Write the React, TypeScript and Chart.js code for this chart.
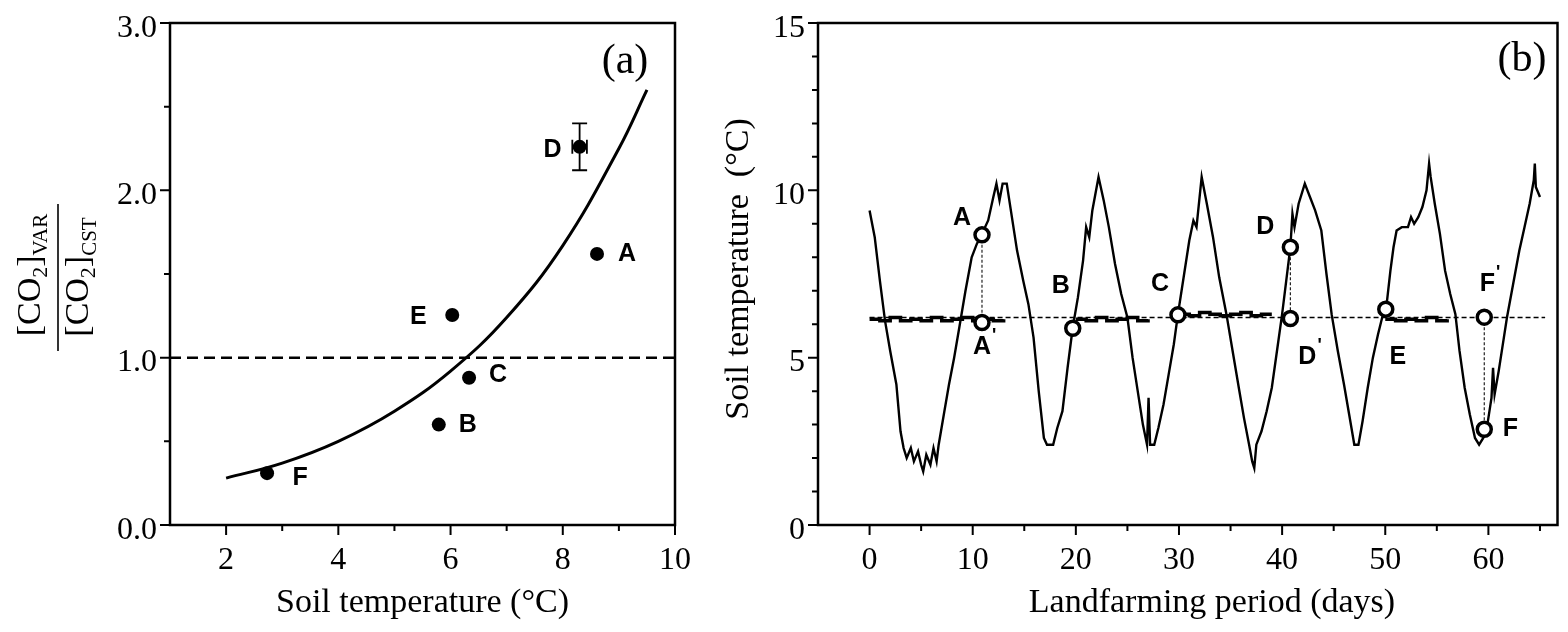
import React, { useEffect, useRef } from "react";
import { Chart, registerables } from "chart.js";

Chart.register(...registerables);

const SERIF = "'Liberation Serif', 'Times New Roman', Times, serif";
const SANS = "'Liberation Sans', Arial, Helvetica, sans-serif";

// ---------------- Panel (a) data ----------------
const aSampleNames = ["A", "B", "C", "D", "E", "F"];
const aSoilTemp = [8.61, 5.79, 6.33, 8.3, 6.03, 2.73];
const aCo2Ratio = [1.62, 0.6, 0.88, 2.26, 1.255, 0.31];
const aRatioError = [0, 0, 0, 0.14, 0, 0];
const aTempError = [0, 0, 0, 0.13, 0, 0];
const aFitTemp = [2, 3, 4, 5, 6, 7, 8, 9, 9.5];
const aFitRatio = [0.28, 0.37, 0.5, 0.68, 0.92, 1.24, 1.67, 2.25, 2.6];
const aRefTemp = [1, 10];
const aRefRatio = [1, 1];
const aXMajor = [2, 4, 6, 8, 10];
const aXMinor = [3, 5, 7, 9];
const aYMajor = [0, 1, 2, 3];
const aYMinor = [0.5, 1.5, 2.5];
const aXTitle = "Soil temperature (\u00B0C)";
const aPanelTag = "(a)";

// ---------------- Panel (b) data ----------------
const bVarDay = [
  0, 0.5, 1, 1.5, 2, 2.6, 3, 3.3, 3.6, 4,
  4.3, 4.7, 5, 5.2, 5.5, 5.9, 6.2, 6.5, 6.7, 7.2,
  7.7, 8.2, 8.7, 9.3, 9.9, 10.4, 10.9, 11.5, 12, 12.3,
  12.6, 12.9, 13.3, 13.8, 14.3, 14.9, 15.4, 15.9, 16.4, 16.9,
  17.2, 17.8, 18.2, 18.7, 19.2, 19.7, 20.2, 20.7, 21, 21.3,
  21.6, 22.2, 22.7, 23.2, 23.8, 24.4, 25, 25.5, 26, 26.5,
  26.9, 27.05, 27.2, 27.6, 28, 28.5, 29, 29.5, 29.9, 30.5,
  31, 31.4, 31.7, 32.2, 32.7, 33.3, 33.9, 34.6, 35.2, 35.8,
  36.3, 36.8, 37.1, 37.3, 37.5, 38, 38.5, 39, 39.5, 40,
  40.4, 40.8, 41, 41.2, 41.6, 42.2, 42.7, 43.2, 43.8, 44.3,
  44.8, 45.4, 46, 46.5, 47, 47.4, 47.8, 48.3, 48.8, 49.3,
  49.7, 50.1, 50.5, 50.8, 51.1, 51.6, 52.2, 52.5, 52.8, 53.2,
  53.6, 54, 54.25, 54.4, 54.8, 55.3, 55.8, 56.3, 56.8, 57.2,
  57.7, 58.2, 58.7, 59.1, 59.5, 59.9, 60.3, 60.45, 60.6, 61,
  61.5, 61.8, 62.4, 63, 63.5, 64, 64.4, 64.5, 64.6, 65,
];
const bVarTemp = [
  9.4, 8.6, 7.3, 6.1, 5.2, 4.2, 2.8, 2.3, 2.0, 2.3,
  1.9, 2.2, 1.8, 1.6, 2.1, 1.8, 2.3, 1.9, 2.4, 3.3,
  4.2, 5.0, 5.9, 7.0, 8.0, 8.4, 8.7, 9.1, 9.8, 10.2,
  9.7, 10.2, 10.2, 9.2, 8.2, 7.3, 6.6, 5.6, 4.0, 2.6,
  2.4, 2.4, 2.9, 3.4, 4.7, 5.9, 6.8, 7.9, 8.9, 8.6,
  9.4, 10.4, 9.7, 8.9, 7.8, 6.9, 6.2, 5.0, 4.0, 3.0,
  2.4, 3.8, 2.4, 2.4, 2.9, 3.6, 4.5, 5.4, 6.3, 7.5,
  8.5, 9.1, 8.9, 10.4, 9.6, 8.6, 7.4, 6.3, 5.2, 4.1,
  3.2, 2.4, 1.9, 1.7, 2.4, 2.8, 3.4, 4.1, 5.2, 6.3,
  7.3, 8.3, 9.3, 8.9, 9.6, 10.2, 9.8, 9.4, 8.8, 7.5,
  6.3, 5.2, 4.2, 3.3, 2.4, 2.4, 3.1, 4.1, 5.0, 5.7,
  6.2, 6.5, 7.6, 8.3, 8.8, 8.9, 8.9, 9.2, 9.0, 9.2,
  9.5, 10.0, 10.8, 10.4, 9.6, 8.7, 7.6, 6.9, 6.3, 5.2,
  4.1, 3.3, 2.6, 2.4, 2.6, 3.0, 3.8, 4.7, 3.9, 4.6,
  5.6, 6.2, 7.2, 8.2, 8.9, 9.6, 10.3, 10.8, 10.1, 9.8,
];
// constant-temperature control: dashed reference and recorded noisy segments
const bConstDay = [0, 65.5];
const bConstTemp = [6.2, 6.2];
const bBandDay = [
  0, 1, 2, 3, 4, 5, 6, 7, 8, 9, 10, 11, 12, 13, 13.5,
  20, 21, 22, 23, 24, 25, 26, 27, 28,
  30, 31, 32, 33, 34, 35, 36, 37, 38, 39, 45,
  50, 51, 52, 53, 54, 55, 56,
];
const bBandTemp = [
  6.15, 6.1, 6.2, 6.1, 6.15, 6.1, 6.2, 6.1, 6.15, 6.2, 6.1, 6.15, 6.1, 6.15, null,
  6.15, 6.1, 6.2, 6.1, 6.15, 6.2, 6.1, 6.15, null,
  6.3, 6.25, 6.35, 6.3, 6.25, 6.3, 6.35, 6.25, 6.3, 6.3, null,
  6.15, 6.1, 6.15, 6.1, 6.2, 6.1, 6.15,
];
const bMarkNames = ["A", "A'", "B", "C", "D", "D'", "E", "F", "F'"];
const bMarkDay = [10.9, 10.9, 19.7, 29.9, 40.8, 40.8, 50.05, 59.6, 59.6];
const bMarkTemp = [8.67, 6.05, 5.88, 6.28, 8.3, 6.17, 6.45, 2.86, 6.21];
const bLinkPairs = [[0, 1], [4, 5], [8, 7]];
const bXMajor = [0, 10, 20, 30, 40, 50, 60];
const bXMinor = [5, 15, 25, 35, 45, 55, 65];
const bYMajor = [0, 5, 10, 15];
const bYMinor = [1, 2, 3, 4, 6, 7, 8, 9, 11, 12, 13, 14];
const bXTitle = "Landfarming period (days)";
const bYTitle = "Soil temperature  (\u00B0C)";
const bPanelTag = "(b)";

// ---------------- style (offsets of point labels, px) ----------------
const aLabelOffsets = [[30, 0], [29, 1], [29, -3], [-27, 3], [-34, 2], [33, 5]];
const bLabelOffsets = [[-20, -17], [0, 25], [-12, -42], [-18, -31], [-25, -20], [17, 39], [12, 48], [26, 0], [3, -33]];

function drawFrameAndTicks(ctx: CanvasRenderingContext2D, chart: any, xMaj: number[], xMin: number[], yMaj: number[], yMin: number[], xLab: (v: number) => string, yLab: (v: number) => string) {
  const { chartArea: ca, scales } = chart;
  const x = scales.x, y = scales.y;
  ctx.save();
  ctx.strokeStyle = "#000";
  ctx.lineWidth = 2.5;
  ctx.strokeRect(ca.left, ca.top, ca.right - ca.left, ca.bottom - ca.top);
  ctx.lineWidth = 2;
  ctx.beginPath();
  xMaj.forEach((v) => { const p = x.getPixelForValue(v); ctx.moveTo(p, ca.bottom); ctx.lineTo(p, ca.bottom + 10); });
  xMin.forEach((v) => { const p = x.getPixelForValue(v); ctx.moveTo(p, ca.bottom); ctx.lineTo(p, ca.bottom + 6); });
  yMaj.forEach((v) => { const p = y.getPixelForValue(v); ctx.moveTo(ca.left, p); ctx.lineTo(ca.left - 10, p); });
  yMin.forEach((v) => { const p = y.getPixelForValue(v); ctx.moveTo(ca.left, p); ctx.lineTo(ca.left - 6, p); });
  ctx.stroke();
  ctx.fillStyle = "#000";
  ctx.font = `32px ${SERIF}`;
  ctx.textBaseline = "alphabetic";
  ctx.textAlign = "center";
  xMaj.forEach((v) => ctx.fillText(xLab(v), x.getPixelForValue(v), ca.bottom + 44));
  ctx.textAlign = "right";
  yMaj.forEach((v) => ctx.fillText(yLab(v), ca.left - 13, y.getPixelForValue(v) + 13.5));
  ctx.restore();
}

function drawMarkLabel(ctx: CanvasRenderingContext2D, text: string, cx: number, cy: number, size: number) {
  const prime = text.endsWith("'");
  const base = prime ? text.slice(0, -1) : text;
  ctx.font = `bold ${size}px ${SANS}`;
  ctx.textAlign = "center";
  ctx.textBaseline = "middle";
  ctx.fillText(base, cx, cy);
  if (prime) {
    const w = ctx.measureText(base).width;
    ctx.font = `bold ${Math.round(size * 0.7)}px ${SANS}`;
    ctx.textAlign = "left";
    ctx.fillText("'", cx + w / 2 + 1, cy - size * 0.45);
  }
}

function drawRotatedRich(ctx: CanvasRenderingContext2D, bx: number, cy: number, parts: [string, number, number][]) {
  ctx.save();
  ctx.translate(bx, cy);
  ctx.rotate(-Math.PI / 2);
  ctx.textBaseline = "alphabetic";
  ctx.textAlign = "left";
  let total = 0;
  parts.forEach(([t, s]) => { ctx.font = `${s}px ${SERIF}`; total += ctx.measureText(t).width; });
  let pos = -total / 2;
  parts.forEach(([t, s, off]) => {
    ctx.font = `${s}px ${SERIF}`;
    ctx.fillText(t, pos, off);
    pos += ctx.measureText(t).width;
  });
  ctx.restore();
}

const panelAPlugin = {
  id: "panelA",
  afterDatasetsDraw(chart: any) {
    const ctx: CanvasRenderingContext2D = chart.ctx;
    const x = chart.scales.x, y = chart.scales.y;
    ctx.save();
    ctx.strokeStyle = "#000";
    ctx.fillStyle = "#000";
    ctx.lineWidth = 1.8;
    aSoilTemp.forEach((t, i) => {
      const px = x.getPixelForValue(t), py = y.getPixelForValue(aCo2Ratio[i]);
      if (aRatioError[i] > 0) {
        const y1 = y.getPixelForValue(aCo2Ratio[i] + aRatioError[i]);
        const y2 = y.getPixelForValue(aCo2Ratio[i] - aRatioError[i]);
        ctx.beginPath();
        ctx.moveTo(px, y1); ctx.lineTo(px, y2);
        ctx.moveTo(px - 7.5, y1); ctx.lineTo(px + 7.5, y1);
        ctx.moveTo(px - 7.5, y2); ctx.lineTo(px + 7.5, y2);
        ctx.stroke();
      }
      if (aTempError[i] > 0) {
        const x1 = x.getPixelForValue(t - aTempError[i]);
        const x2 = x.getPixelForValue(t + aTempError[i]);
        ctx.beginPath();
        ctx.moveTo(x1, py); ctx.lineTo(x2, py);
        ctx.moveTo(x1, py - 7); ctx.lineTo(x1, py + 7);
        ctx.moveTo(x2, py - 7); ctx.lineTo(x2, py + 7);
        ctx.stroke();
      }
      drawMarkLabel(ctx, aSampleNames[i], px + aLabelOffsets[i][0], py + aLabelOffsets[i][1], 25);
    });
    ctx.restore();
  },
  afterDraw(chart: any) {
    const ctx: CanvasRenderingContext2D = chart.ctx;
    const ca = chart.chartArea;
    drawFrameAndTicks(ctx, chart, aXMajor, aXMinor, aYMajor, aYMinor, (v) => String(v), (v) => v.toFixed(1));
    ctx.save();
    ctx.fillStyle = "#000";
    ctx.font = `34px ${SERIF}`;
    ctx.textAlign = "center";
    ctx.textBaseline = "alphabetic";
    ctx.fillText(aXTitle, (ca.left + ca.right) / 2, 612);
    ctx.font = `42px ${SERIF}`;
    ctx.textBaseline = "middle";
    ctx.fillText(aPanelTag, 625, 62);
    // fraction y-axis title
    drawRotatedRich(ctx, 39.5, 275, [["[CO", 34, 0], ["2", 22, 7], ["]", 34, 0], ["VAR", 21, 7.5]]);
    drawRotatedRich(ctx, 88, 277, [["[CO", 34, 0], ["2", 22, 7], ["]", 34, 0], ["CST", 21, 7.5]]);
    ctx.strokeStyle = "#000";
    ctx.lineWidth = 1.6;
    ctx.beginPath();
    ctx.moveTo(58, 204);
    ctx.lineTo(58, 351);
    ctx.stroke();
    ctx.restore();
  },
};

const panelBPlugin = {
  id: "panelB",
  afterDatasetsDraw(chart: any) {
    const ctx: CanvasRenderingContext2D = chart.ctx;
    const x = chart.scales.x, y = chart.scales.y;
    ctx.save();
    ctx.fillStyle = "#000";
    bMarkNames.forEach((n, i) => {
      const px = x.getPixelForValue(bMarkDay[i]), py = y.getPixelForValue(bMarkTemp[i]);
      drawMarkLabel(ctx, n, px + bLabelOffsets[i][0], py + bLabelOffsets[i][1], 25);
    });
    ctx.restore();
  },
  afterDraw(chart: any) {
    const ctx: CanvasRenderingContext2D = chart.ctx;
    drawFrameAndTicks(ctx, chart, bXMajor, bXMinor, bYMajor, bYMinor, (v) => String(v), (v) => String(v));
    ctx.save();
    ctx.fillStyle = "#000";
    ctx.font = `34px ${SERIF}`;
    ctx.textAlign = "center";
    ctx.textBaseline = "alphabetic";
    ctx.fillText(bXTitle, 512, 612);
    ctx.save();
    ctx.translate(48, 269);
    ctx.rotate(-Math.PI / 2);
    ctx.fillText(bYTitle, 0, 0);
    ctx.restore();
    ctx.font = `42px ${SERIF}`;
    ctx.textBaseline = "middle";
    ctx.fillText(bPanelTag, 822, 60);
    ctx.restore();
  },
};

const pts = (xs: number[], ys: (number | null)[]) => xs.map((v, i) => ({ x: v, y: ys[i] }));

function axis(min: number, max: number, size: { w?: number; h?: number }) {
  return {
    type: "linear" as const,
    min,
    max,
    grid: { display: false },
    border: { display: false },
    ticks: { display: false },
    afterFit: (s: any) => {
      if (size.w !== undefined) s.width = size.w;
      if (size.h !== undefined) s.height = size.h;
    },
  };
}

function configA(): any {
  return {
    type: "scatter",
    data: {
      datasets: [
        {
          data: pts(aSoilTemp, aCo2Ratio),
          pointRadius: 7,
          pointBackgroundColor: "#000",
          pointBorderColor: "#000",
          pointBorderWidth: 0,
          showLine: false,
          order: 0,
        },
        {
          data: pts(aFitTemp, aFitRatio),
          showLine: true,
          borderColor: "#000",
          borderWidth: 3,
          pointRadius: 0,
          tension: 0.4,
          order: 1,
        },
        {
          data: pts(aRefTemp, aRefRatio),
          showLine: true,
          borderColor: "#000",
          borderWidth: 2.5,
          borderDash: [11, 6],
          pointRadius: 0,
          order: 2,
        },
      ],
    },
    options: {
      responsive: false,
      animation: false,
      devicePixelRatio: 1,
      events: [],
      layout: { padding: { left: 0, right: 25, top: 23, bottom: 0 } },
      plugins: { legend: { display: false }, tooltip: { enabled: false } },
      scales: { x: axis(1, 10, { h: 107 }), y: axis(0, 3, { w: 170 }) },
    },
    plugins: [panelAPlugin],
  };
}

function configB(): any {
  const links: { x: number; y: number | null }[] = [];
  bLinkPairs.forEach(([a, b]) => {
    links.push({ x: bMarkDay[a], y: bMarkTemp[a] });
    links.push({ x: bMarkDay[b], y: bMarkTemp[b] });
    links.push({ x: bMarkDay[b], y: null });
  });
  return {
    type: "scatter",
    data: {
      datasets: [
        {
          data: pts(bMarkDay, bMarkTemp),
          pointRadius: 7,
          pointBackgroundColor: "#fff",
          pointBorderColor: "#000",
          pointBorderWidth: 3.5,
          showLine: false,
          order: 0,
        },
        {
          data: links,
          showLine: true,
          borderColor: "#222",
          borderWidth: 1.2,
          borderDash: [3, 2],
          pointRadius: 0,
          spanGaps: false,
          order: 1,
        },
        {
          data: pts(bVarDay, bVarTemp),
          showLine: true,
          borderColor: "#000",
          borderWidth: 2.4,
          pointRadius: 0,
          order: 2,
        },
        {
          data: pts(bBandDay, bBandTemp),
          showLine: true,
          stepped: true,
          borderColor: "#000",
          borderWidth: 3.5,
          pointRadius: 0,
          spanGaps: false,
          order: 3,
        },
        {
          data: pts(bConstDay, bConstTemp),
          showLine: true,
          borderColor: "#000",
          borderWidth: 1.4,
          borderDash: [5, 3],
          pointRadius: 0,
          order: 4,
        },
      ],
    },
    options: {
      responsive: false,
      animation: false,
      devicePixelRatio: 1,
      events: [],
      layout: { padding: { left: 0, right: 3, top: 23, bottom: 0 } },
      plugins: { legend: { display: false }, tooltip: { enabled: false } },
      scales: { x: axis(-5, 66.7, { h: 107 }), y: axis(0, 15, { w: 118 }) },
    },
    plugins: [panelBPlugin],
  };
}

export default function App() {
  const aRef = useRef<HTMLCanvasElement>(null);
  const bRef = useRef<HTMLCanvasElement>(null);
  useEffect(() => {
    const ca = new Chart(aRef.current as HTMLCanvasElement, configA());
    const cb = new Chart(bRef.current as HTMLCanvasElement, configB());
    return () => {
      ca.destroy();
      cb.destroy();
    };
  }, []);
  return (
    <div style={{ position: "fixed", left: 0, top: 0, width: 1568, height: 632, overflow: "hidden", background: "#fff" }}>
      <canvas ref={aRef} width={700} height={632} style={{ position: "absolute", left: 0, top: 0 }} />
      <canvas ref={bRef} width={868} height={632} style={{ position: "absolute", left: 700, top: 0 }} />
    </div>
  );
}
